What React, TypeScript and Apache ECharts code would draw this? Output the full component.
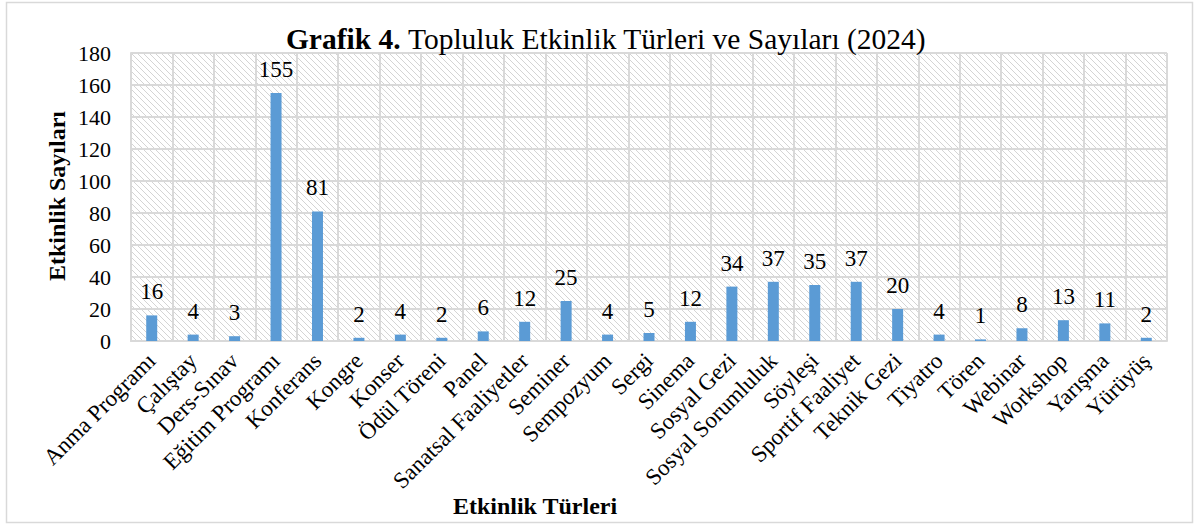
import React, { useEffect, useRef } from "react";
import * as echarts from "echarts";

const categories = [
  "Anma Programı", "Çalıştay", "Ders-Sınav", "Eğitim Programı", "Konferans", "Kongre",
  "Konser", "Ödül Töreni", "Panel", "Sanatsal Faaliyetler", "Seminer", "Sempozyum",
  "Sergi", "Sinema", "Sosyal Gezi", "Sosyal Sorumluluk", "Söyleşi", "Sportif Faaliyet",
  "Teknik Gezi", "Tiyatro", "Tören", "Webinar", "Workshop", "Yarışma", "Yürüyüş",
];
const counts = [16, 4, 3, 155, 81, 2, 4, 2, 6, 12, 25, 4, 5, 12, 34, 37, 35, 37, 20, 4, 1, 8, 13, 11, 2];
const yTicks = { min: 0, max: 180, interval: 20 };
const titleBold = "Grafik 4.";
const titleRest = " Topluluk Etkinlik Türleri ve Sayıları (2024)";
const xName = "Etkinlik Türleri";
const yName = "Etkinlik Sayıları";

const FONT = "Liberation Serif";

function makeHatch(): HTMLCanvasElement {
  const s = 6;
  const c = document.createElement("canvas");
  c.width = s;
  c.height = s;
  const ctx = c.getContext("2d")!;
  ctx.fillStyle = "#ffffff";
  ctx.fillRect(0, 0, s, s);
  ctx.fillStyle = "#d4d4d4";
  for (let i = 0; i < s; i++) {
    ctx.fillRect(i, i, 1, 1);
  }
  return c;
}

export default function App() {
  const ref = useRef<HTMLDivElement>(null);
  useEffect(() => {
    if (!ref.current) return;
    const chart = echarts.init(ref.current, undefined, { renderer: "svg" });
    const hatch = makeHatch();
    chart.setOption({
      animation: false,
      backgroundColor: "#ffffff",
      title: {
        text: `{b|${titleBold}}{n|${titleRest}}`,
        left: 601,
        textAlign: "center",
        top: 19,
        textStyle: {
          fontFamily: FONT,
          fontWeight: "normal",
          fontSize: 29.5,
          rich: {
            b: { fontFamily: FONT, fontWeight: "bold", fontSize: 29.5, color: "#000" },
            n: { fontFamily: FONT, fontWeight: "normal", fontSize: 29.5, color: "#000" },
          },
        },
      },
      graphic: [
        {
          type: "rect",
          shape: { x: 6.5, y: 2.5, width: 1186, height: 520 },
          style: { fill: "none", stroke: "#d9d9d9", lineWidth: 1.5 },
          z: 100,
          silent: true,
        },
        {
          type: "text",
          x: 535,
          y: 506,
          style: {
            text: xName,
            fontFamily: FONT,
            fontWeight: "bold",
            fontSize: 24,
            fill: "#000",
            align: "center",
            verticalAlign: "middle",
          },
        },
        {
          type: "text",
          x: 57,
          y: 196,
          rotation: Math.PI / 2,
          style: {
            text: yName,
            fontFamily: FONT,
            fontWeight: "bold",
            fontSize: 24,
            fill: "#000",
            align: "center",
            verticalAlign: "middle",
          },
        },
      ],
      grid: {
        left: 131,
        right: 29,
        top: 53,
        bottom: 184,
        show: true,
        borderWidth: 0,
        backgroundColor: { image: hatch, repeat: "repeat" },
      },
      xAxis: {
        type: "category",
        data: categories,
        axisLine: { show: true, lineStyle: { color: "#d9d9d9", width: 2 } },
        axisTick: { show: false },
        splitLine: { show: true, interval: 0, lineStyle: { color: "#d9d9d9", width: 2 } },
        axisLabel: {
          interval: 0,
          rotate: 45,
          margin: 16,
          fontFamily: FONT,
          fontSize: 23,
          color: "#000",
        },
      },
      yAxis: {
        type: "value",
        min: yTicks.min,
        max: yTicks.max,
        interval: yTicks.interval,
        axisLine: { show: true, lineStyle: { color: "#d9d9d9", width: 2 } },
        axisTick: { show: false },
        splitLine: { show: true, lineStyle: { color: "#d9d9d9", width: 2 } },
        axisLabel: {
          margin: 20,
          fontFamily: FONT,
          fontSize: 22,
          color: "#000",
        },
      },
      series: [
        {
          type: "bar",
          data: counts,
          barWidth: 11,
          itemStyle: { color: "#5b9bd5" },
          label: {
            show: true,
            position: "top",
            distance: 12,
            fontFamily: FONT,
            fontSize: 23,
            color: "#000",
          },
        },
      ],
    });
    return () => chart.dispose();
  }, []);
  return (
    <div
      ref={ref}
      style={{ position: "fixed", left: 0, top: 0, width: 1196, height: 525 }}
    />
  );
}
